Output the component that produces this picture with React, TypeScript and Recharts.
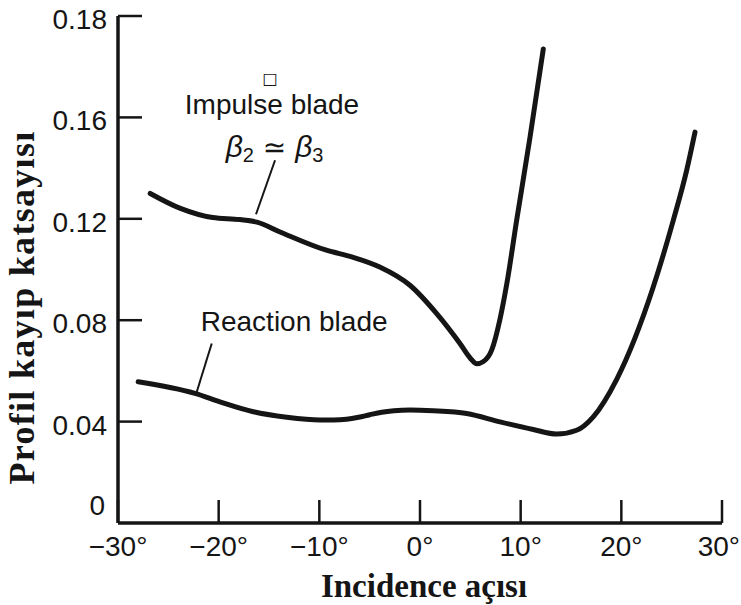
import React from 'react';
import { LineChart, Line, XAxis, YAxis, ReferenceLine, ReferenceDot } from 'recharts';

// ---- axis ticks ----
const xTicks = [-30, -20, -10, 0, 10, 20, 30];
const xTickLabels = ['\u221230\u00b0', '\u221220\u00b0', '\u221210\u00b0', '0\u00b0', '10\u00b0', '20\u00b0', '30\u00b0'];
const yTicks = [0, 0.04, 0.08, 0.12, 0.16, 0.2];
const yTickLabels = ['0', '0.04', '0.08', '0.12', '0.16', '0.18'];

// ---- series: Impulse blade ----
const impulseX = [-26.8, -23.8, -20.6, -17.9, -16.2, -13.9, -9.3, -6.7, -4.0, -1.0, 1.66, 3.97, 5.0, 5.63, 6.3, 7.12, 7.95, 8.65, 9.6, 10.93, 12.25];
const impulseY = [0.130, 0.1241, 0.1205, 0.1197, 0.1187, 0.1148, 0.1076, 0.1049, 0.1010, 0.0938, 0.0826, 0.0708, 0.0650, 0.0628, 0.0637, 0.0682, 0.0805, 0.0950, 0.1194, 0.1522, 0.187];

// ---- series: Reaction blade ----
const reactionX = [-28.0, -22.35, -19.87, -16.56, -13.24, -9.93, -8.6, -7.3, -6.1, -5.0, -3.8, -2.6, -1.0, 1.32, 4.64, 7.95, 11.25, 13.58, 15.56, 17.21, 19.54, 23.17, 25.16, 26.49, 27.32];
const reactionY = [0.0557, 0.0511, 0.0478, 0.0439, 0.0417, 0.0406, 0.0406, 0.0409, 0.0417, 0.0427, 0.0437, 0.0443, 0.0446, 0.0443, 0.0432, 0.0399, 0.0369, 0.0351, 0.0366, 0.0419, 0.0567, 0.0931, 0.1194, 0.1391, 0.1542];

// ---- annotations (data coordinates) ----
const squareAnno = { x: -14.9, y: 0.1752, text: '\u25a1' };
const impulseAnno = { x: -14.7, y: 0.1612, text: 'Impulse blade' };
const betaAnno = { x: -14.45, y: 0.1442 };
const reactionAnno = { x: -12.5, y: 0.0757, text: 'Reaction blade' };
const impulseLeader = [{ x: -14.4, y: 0.1431 }, { x: -16.29, y: 0.1218 }];
const reactionLeader = [{ x: -20.69, y: 0.0708 }, { x: -22.18, y: 0.0517 }];

const xTitle = 'Incidence açısı';
const yTitle = 'Profil kayıp katsayısı';

const impulseData = impulseX.map((x, i) => ({ x, y: impulseY[i] }));
const reactionData = reactionX.map((x, i) => ({ x, y: reactionY[i] }));

const INK = '#151515';
const SANS = '"Liberation Sans", Arial, "DejaVu Sans", sans-serif';
const SERIF = '"Liberation Serif", "Times New Roman", serif';

const XTick = (props: any) => {
  const { x, y, payload } = props;
  const i = xTicks.indexOf(payload.value);
  const last = i === xTicks.length - 1;
  return (
    <g>
      <line x1={x} x2={x} y1={y} y2={y - 23} stroke={INK} strokeWidth={2.5} />
      <text x={last ? x + 18 : x} y={y + 33} textAnchor={last ? 'end' : 'middle'} fontFamily={SANS} fontSize={28} fill={INK}>
        {i >= 0 ? xTickLabels[i] : String(payload.value)}
      </text>
    </g>
  );
};

const YTick = (props: any) => {
  const { x, y, payload } = props;
  const i = yTicks.indexOf(payload.value);
  const isZero = payload.value === 0;
  return (
    <g>
      {!isZero && <line x1={x} x2={x + 24} y1={y} y2={y} stroke={INK} strokeWidth={2.5} />}
      <text x={isZero ? x - 13 : x - 11} y={isZero ? y - 8 : y + 13} textAnchor="end" fontFamily={SANS} fontSize={28} fill={INK}>
        {i >= 0 ? yTickLabels[i] : String(payload.value)}
      </text>
    </g>
  );
};

const XTitle = (props: any) => {
  const vb = props.viewBox || {};
  const cx = vb.x + vb.width / 2 + 4;
  return (
    <text x={cx} y={vb.y + 74} textAnchor="middle" fontFamily={SERIF} fontWeight="bold" fontSize={33} fill={INK}>
      {xTitle}
    </text>
  );
};

const YTitle = (props: any) => {
  const vb = props.viewBox || {};
  const cx = vb.x + 34;
  const cy = vb.y + vb.height / 2 + 38;
  return (
    <text x={cx} y={cy} transform={`rotate(-90, ${cx}, ${cy})`} textAnchor="middle" fontFamily={SERIF} fontWeight="bold" fontSize={36} letterSpacing={1.3} fill={INK}>
      {yTitle}
    </text>
  );
};

const makeTextLabel = (text: string, size: number, family: string) => (props: any) => {
  const vb = props.viewBox || {};
  return (
    <text x={vb.x} y={vb.y} textAnchor="middle" fontFamily={family} fontSize={size} fill={INK}>
      {text}
    </text>
  );
};

const SquareLabel = (props: any) => {
  const vb = props.viewBox || {};
  return (
    <text x={vb.x} y={vb.y} textAnchor="middle" dominantBaseline="central" fontFamily='"DejaVu Sans", sans-serif' fontSize={16} fill={INK}>
      {squareAnno.text}
    </text>
  );
};

const BetaLabel = (props: any) => {
  const vb = props.viewBox || {};
  return (
    <text x={vb.x} y={vb.y} textAnchor="middle" fontFamily={SANS} fontSize={30} fill={INK}>
      <tspan fontStyle="italic">β</tspan>
      <tspan fontSize={20} dy={5}>2</tspan>
      <tspan dy={-5} fontFamily='"DejaVu Sans", sans-serif' fontSize={28}>{'  \u2243  '}</tspan>
      <tspan fontStyle="italic">β</tspan>
      <tspan fontSize={20} dy={5}>3</tspan>
    </text>
  );
};

export default function App() {
  return (
    <div style={{ position: 'absolute', left: 0, top: 0, width: 741, height: 605, background: '#fff' }}>
      <LineChart width={741} height={605} margin={{ top: 16, right: 19, bottom: 0, left: 0 }}>
        <XAxis
          dataKey="x"
          type="number"
          domain={[-30, 30]}
          ticks={xTicks}
          interval={0}
          allowDataOverflow
          height={82}
          axisLine={{ stroke: INK, strokeWidth: 3.5 }}
          tickLine={false}
          tickSize={0}
          tickMargin={0}
          tick={(p: any) => <XTick {...p} />}
          label={(p: any) => <XTitle {...p} />}
        />
        <YAxis
          type="number"
          domain={[0, 0.2]}
          ticks={yTicks}
          interval={0}
          allowDataOverflow
          width={118}
          axisLine={{ stroke: INK, strokeWidth: 3.5 }}
          tickLine={false}
          tickSize={0}
          tickMargin={0}
          tick={(p: any) => <YTick {...p} />}
          label={(p: any) => <YTitle {...p} />}
        />
        <Line data={impulseData} dataKey="y" type="monotone" stroke={INK} strokeWidth={5} dot={false} strokeLinecap="round" isAnimationActive={false} />
        <Line data={reactionData} dataKey="y" type="monotone" stroke={INK} strokeWidth={5} dot={false} strokeLinecap="round" isAnimationActive={false} />
        <ReferenceLine segment={impulseLeader} stroke={INK} strokeWidth={2} />
        <ReferenceLine segment={reactionLeader} stroke={INK} strokeWidth={2} />
        <ReferenceDot x={squareAnno.x} y={squareAnno.y} r={0} stroke="none" label={(p: any) => <SquareLabel {...p} />} />
        <ReferenceDot x={impulseAnno.x} y={impulseAnno.y} r={0} stroke="none" label={makeTextLabel(impulseAnno.text, 28, SANS)} />
        <ReferenceDot x={betaAnno.x} y={betaAnno.y} r={0} stroke="none" label={(p: any) => <BetaLabel {...p} />} />
        <ReferenceDot x={reactionAnno.x} y={reactionAnno.y} r={0} stroke="none" label={makeTextLabel(reactionAnno.text, 28, SANS)} />
      </LineChart>
    </div>
  );
}
